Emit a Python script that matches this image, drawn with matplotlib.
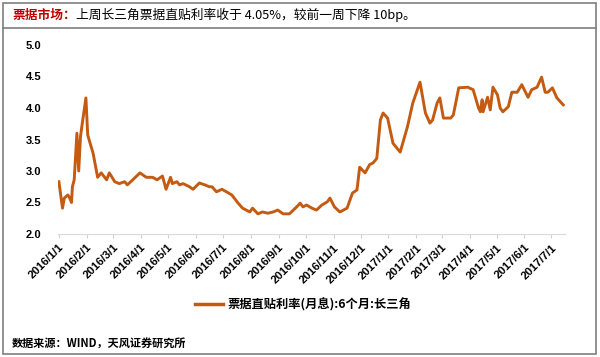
import matplotlib
matplotlib.use('Agg')
import matplotlib.pyplot as plt
import pandas as pd
from matplotlib.patches import Rectangle
from matplotlib.lines import Line2D

# 票据直贴利率(月息):6个月:长三角, 读图估计
dates = ['2016-01-01', '2016-01-05', '2016-01-07', '2016-01-11', '2016-01-13', '2016-01-15',
         '2016-01-16', '2016-01-18', '2016-01-21', '2016-01-23', '2016-01-25', '2016-01-27',
         '2016-01-31', '2016-02-02', '2016-02-08', '2016-02-13', '2016-02-17', '2016-02-23',
         '2016-02-26', '2016-03-03', '2016-03-08', '2016-03-14', '2016-03-17', '2016-03-23',
         '2016-03-31', '2016-04-07', '2016-04-14', '2016-04-19', '2016-04-25', '2016-04-29',
         '2016-05-04', '2016-05-06', '2016-05-11', '2016-05-14', '2016-05-18', '2016-05-25',
         '2016-05-29', '2016-06-05', '2016-06-11', '2016-06-16', '2016-06-19', '2016-06-24',
         '2016-06-30', '2016-07-05', '2016-07-11', '2016-07-18', '2016-07-23', '2016-07-31',
         '2016-08-03', '2016-08-09', '2016-08-14', '2016-08-20', '2016-08-26', '2016-08-31',
         '2016-09-06', '2016-09-13', '2016-09-21', '2016-09-25', '2016-09-28', '2016-10-02',
         '2016-10-08', '2016-10-13', '2016-10-19', '2016-10-25', '2016-10-28', '2016-11-02',
         '2016-11-08', '2016-11-16', '2016-11-22', '2016-11-27', '2016-11-30', '2016-12-06',
         '2016-12-11', '2016-12-15', '2016-12-19', '2016-12-23', '2016-12-26', '2016-12-31',
         '2017-01-06', '2017-01-14', '2017-01-22', '2017-01-28', '2017-02-05', '2017-02-11',
         '2017-02-16', '2017-02-19', '2017-02-24', '2017-02-27', '2017-03-03', '2017-03-11',
         '2017-03-14', '2017-03-20', '2017-03-30', '2017-04-05', '2017-04-11', '2017-04-13',
         '2017-04-15', '2017-04-16', '2017-04-21', '2017-04-24', '2017-04-27', '2017-05-02',
         '2017-05-05', '2017-05-08', '2017-05-14', '2017-05-18', '2017-05-24', '2017-05-29',
         '2017-06-05', '2017-06-09', '2017-06-15', '2017-06-20', '2017-06-24', '2017-06-27',
         '2017-07-02', '2017-07-07', '2017-07-14']
rates = [2.83, 2.41, 2.57, 2.62, 2.57, 2.50,
         2.75, 2.86, 3.60, 3.00, 3.55, 3.76,
         4.16, 3.57, 3.28, 2.90, 2.97, 2.86,
         2.97, 2.83, 2.80, 2.83, 2.78, 2.86,
         2.97, 2.90, 2.90, 2.86, 2.92, 2.71,
         2.90, 2.80, 2.83, 2.78, 2.80, 2.75,
         2.71, 2.81, 2.78, 2.75, 2.75, 2.67,
         2.71, 2.67, 2.62, 2.49, 2.41, 2.35,
         2.41, 2.32, 2.35, 2.33, 2.35, 2.38,
         2.32, 2.32, 2.43, 2.49, 2.43, 2.46,
         2.41, 2.38, 2.46, 2.51, 2.57, 2.43,
         2.35, 2.41, 2.65, 2.70, 3.06, 2.97,
         3.10, 3.13, 3.20, 3.81, 3.92, 3.84,
         3.44, 3.30, 3.70, 4.08, 4.41, 3.92,
         3.76, 3.81, 4.08, 4.16, 3.84, 3.84,
         3.89, 4.32, 4.33, 4.29, 4.00, 3.94,
         4.13, 3.94, 4.17, 3.97, 4.33, 4.21,
         4.00, 3.94, 4.02, 4.25, 4.25, 4.37,
         4.17, 4.29, 4.33, 4.49, 4.25, 4.25,
         4.32, 4.16, 4.05]
yticks = [2.0, 2.5, 3.0, 3.5, 4.0, 4.5, 5.0]
xticks = pd.date_range('2016-01-01', '2017-07-01', freq='MS')

title_red = '票据市场：'
title_black = '上周长三角票据直贴利率收于 4.05%，较前一周下降 10bp。'
legend_label = '票据直贴利率(月息):6个月:长三角'
source = '数据来源：WIND，天风证券研究所'

cjk = ['Noto Sans CJK SC', 'DejaVu Sans']
line_color = '#c55a11'

fig = plt.figure(figsize=(6, 3.57), dpi=100)
ax = fig.add_axes([58/600, 1-234/357, (565-58)/600, (234-45)/357])

x = pd.to_datetime(dates)
ax.plot(x, rates, color=line_color, lw=2.1)

ax.set_ylim(2.0, 5.0)
ax.set_xlim(pd.Timestamp('2015-12-31'), pd.Timestamp('2017-07-16'))
ax.set_yticks(yticks)
ax.set_yticklabels(['%.1f' % v for v in yticks], fontsize=8, fontweight='bold',
                   family='Liberation Sans')
ax.set_xticks(xticks)
ax.set_xticklabels(['%d/%d/1' % (d.year, d.month) for d in xticks], rotation=45,
                   ha='right', rotation_mode='anchor', fontsize=8.2, fontweight='bold',
                   family='Liberation Sans')
ax.tick_params(axis='y', length=0, pad=12)
ax.tick_params(axis='x', length=3, color='#d0d0d0', pad=3)
for s in ['top', 'right', 'left']:
    ax.spines[s].set_visible(False)
ax.spines['bottom'].set_color('#d9d9d9')

handle = Line2D([], [], color=line_color, lw=2.5)
fig.legend([handle], [legend_label], loc='center', bbox_to_anchor=(0.505, 1-305/357),
           frameon=False, handlelength=2.3, handletextpad=0.3,
           prop={'family': cjk, 'size': 8.8, 'weight': 'bold'})

fig.text(12/600, 1-343/357, source, family=cjk, fontsize=8, style='italic',
         fontweight='bold', va='center')

# 标题: 红色部分 + 黑色部分
t1 = fig.text(12/600, 1-15/357, title_red, family=cjk, fontsize=9.2, color='#c00000',
              fontweight='bold', va='center')
r = fig.canvas.get_renderer()
bb = t1.get_window_extent(renderer=r)
fig.text(bb.x1/600, 1-15/357, title_black, family=cjk, fontsize=9.2, color='black',
         va='center')

# 外框和标题分隔线
fig.patches.append(Rectangle((3/600, 3/357), 593/600, 351/357, transform=fig.transFigure,
                             fill=False, edgecolor='#7f7f7f', lw=1.2))
fig.lines.append(Line2D([3/600, 596/600], [1-28/357, 1-28/357], transform=fig.transFigure,
                        color='#7f7f7f', lw=1.2))

fig.savefig('out.png', dpi=100)
